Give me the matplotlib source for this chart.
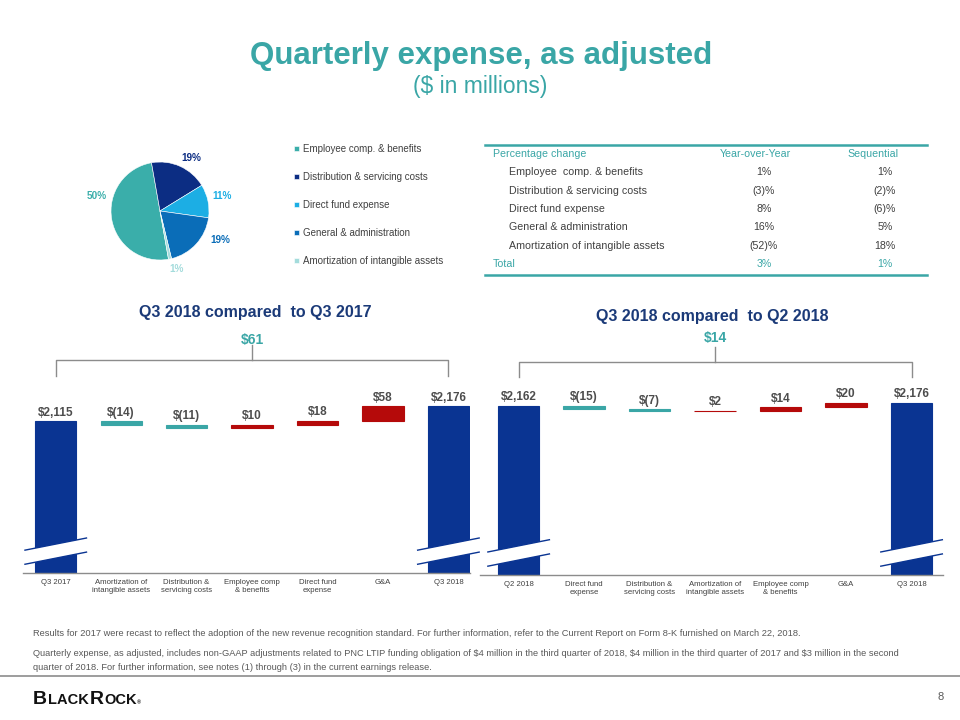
import matplotlib.pyplot as plt
import matplotlib.transforms as mtransforms
from matplotlib.offsetbox import TextArea, HPacker, AnnotationBbox
import numpy as np

plt.rcParams['font.family'] = ['Liberation Sans', 'DejaVu Sans']

# ---- data ----
pie_labels = ['Employee comp. & benefits', 'Distribution & servicing costs',
              'Direct fund expense', 'General & administration',
              'Amortization of intangible assets']
pie_pct = [50, 19, 11, 19, 1]

table_items = ['Employee  comp. & benefits', 'Distribution & servicing costs',
               'Direct fund expense', 'General & administration',
               'Amortization of intangible assets']
yoy_change = [1, -3, 8, 16, -52]
seq_change = [1, -2, -6, 5, 18]
yoy_total = 3
seq_total = 1

q3_2017 = 2115
yoy_names = ['Amortization of\nintangible assets', 'Distribution &\nservicing costs',
             'Employee comp\n& benefits', 'Direct fund\nexpense', 'G&A']
yoy_deltas = [-14, -11, 10, 18, 58]

q2_2018 = 2162
seq_names = ['Direct fund\nexpense', 'Distribution &\nservicing costs',
             'Amortization of\nintangible assets', 'Employee comp\n& benefits', 'G&A']
seq_deltas = [-15, -7, 2, 14, 20]

# ---- style ----
TEAL = '#3AA6A6'
NAVY = '#0A3492'
NAVY_TXT = '#1B3A78'
RED = '#B50A0A'
GRAY = '#404040'
pie_colors = ['#3AAEAA', '#0C2D83', '#1CAEE4', '#0A6DB8', '#A4DCDC']

W, H = 960, 720
fig = plt.figure(figsize=(9.6, 7.2), dpi=100)


def box(x0, y0, x1, y1):
    return [x0 / W, 1 - y1 / H, (x1 - x0) / W, (y1 - y0) / H]


def money(v):
    return f"${v:,}" if v >= 0 else f"$({-v})"


def pct(v):
    return f"{v}%" if v >= 0 else f"({-v})%"


# overlay in pixel coords for slide text
ov = fig.add_axes([0, 0, 1, 1])
ov.set_xlim(0, W)
ov.set_ylim(H, 0)
ov.axis('off')

ov.text(481, 64, 'Quarterly expense, as adjusted', ha='center', va='baseline',
        fontsize=22.5, fontweight='bold', color=TEAL)
ov.text(480, 93, '($ in millions)', ha='center', va='baseline', fontsize=16.5, color=TEAL)

# ---- pie ----
axp = fig.add_axes(box(111, 162, 209, 260))
wedges, _, autotexts = axp.pie(pie_pct, colors=pie_colors, startangle=280, counterclock=False,
                               autopct=lambda p: f"{p:.0f}%", pctdistance=1.3,
                               wedgeprops=dict(edgecolor='white', linewidth=0.4))
axp.set_xlim(-1, 1)
axp.set_ylim(-1, 1)
label_r = [1.32, 1.26, 1.3, 1.36, 1.23]
label_ang = [167, 60, 14, -26, -74]
for t, c, r, a in zip(autotexts, pie_colors, label_r, label_ang):
    t.set_position((r * np.cos(np.radians(a)), r * np.sin(np.radians(a))))
    t.set_color(c)
    t.set_fontsize(7.2)
    t.set_fontweight('bold')

fig.legend(handles=wedges, labels=pie_labels, loc='upper left',
           bbox_to_anchor=(294 / W, 1 - 144 / H), frameon=False, fontsize=7,
           labelcolor=GRAY, handlelength=0.55, handleheight=0.55, handletextpad=0.4,
           labelspacing=1.85, borderpad=0, borderaxespad=0)

# ---- table ----
TF = 7.7
ov.plot([485, 927], [145, 145], color=TEAL, lw=1.8)
ov.plot([485, 927], [275, 275], color=TEAL, lw=1.8)
ov.text(493, 154, 'Percentage change', color=TEAL, va='center', fontsize=TF)
ov.text(755, 154, 'Year-over-Year', color=TEAL, va='center', ha='center', fontsize=TF)
ov.text(873, 154, 'Sequential', color=TEAL, va='center', ha='center', fontsize=TF)
for i, name in enumerate(table_items):
    y = 172 + i * 18.5
    ov.text(509, y, name, color=GRAY, va='center', fontsize=TF)
    ov.text(764, y, pct(yoy_change[i]), color=GRAY, va='center', ha='center', fontsize=TF)
    ov.text(885, y, pct(seq_change[i]), color=GRAY, va='center', ha='center', fontsize=TF)
ov.text(493, 264, 'Total', color=TEAL, va='center', fontsize=TF)
ov.text(764, 264, pct(yoy_total), color=TEAL, va='center', ha='center', fontsize=TF)
ov.text(885, 264, pct(seq_total), color=TEAL, va='center', ha='center', fontsize=TF)

# ---- waterfalls ----
ov.text(255, 312, 'Q3 2018 compared  to Q3 2017', ha='center', va='center',
        fontsize=11.5, fontweight='bold', color=NAVY_TXT)
ov.text(712, 316, 'Q3 2018 compared  to Q2 2018', ha='center', va='center',
        fontsize=11.5, fontweight='bold', color=NAVY_TXT)


def waterfall(rect, start, names, deltas, first, last, xlim, ylim, brk):
    ax = fig.add_axes(rect)
    ax.patch.set_alpha(0)
    end = start + sum(deltas)
    cats = [first] + names + [last]
    x = list(range(len(cats)))
    levels = [start]
    for d in deltas:
        levels.append(levels[-1] + d)
    bottoms = [ylim[0]] + [min(levels[i], levels[i + 1]) for i in range(len(deltas))] + [ylim[0]]
    heights = [start - ylim[0]] + [abs(d) for d in deltas] + [end - ylim[0]]
    colors = [NAVY] + [TEAL if d < 0 else RED for d in deltas] + [NAVY]
    values = [start] + deltas + [end]
    ax.bar(x, heights, bottom=bottoms, width=0.63, color=colors, edgecolor=colors, linewidth=0.8)
    for i in x:
        ax.annotate(money(values[i]), (i, bottoms[i] + heights[i]), xytext=(0, 2),
                    textcoords='offset points', ha='center', va='bottom',
                    fontsize=8.5, fontweight='bold', color='#4D4D4D')
    ax.set_xlim(*xlim)
    ax.set_ylim(*ylim)
    ax.set_xticks(x, cats)
    ax.set_yticks([])
    ax.tick_params(axis='x', length=0, pad=4, labelsize=5.6, labelcolor=GRAY)
    for lab in ax.get_xticklabels():
        lab.set_linespacing(1.25)
    for s in ['top', 'left', 'right']:
        ax.spines[s].set_visible(False)
    ax.spines['bottom'].set_color('#8C8C8C')
    ax.spines['bottom'].set_linewidth(1)

    trans = mtransforms.blended_transform_factory(ax.transData, ax.transAxes)
    # axis break marks on the first and last bars
    for i in (x[0], x[-1]):
        x0, x1 = i - 0.47, i + 0.47
        yc, th, dy = 0.09, 0.058, 0.025
        poly = plt.Polygon([(x0, yc - th / 2 - dy), (x1, yc - th / 2 + dy),
                            (x1, yc + th / 2 + dy), (x0, yc + th / 2 - dy)],
                           closed=True, facecolor='white', edgecolor='none',
                           transform=trans, zorder=3)
        ax.add_patch(poly)
        for s in (-1, 1):
            ax.plot([x0, x1], [yc + s * th / 2 - dy, yc + s * th / 2 + dy], transform=trans,
                    color=NAVY, lw=1, zorder=4, clip_on=False)

    # bracket with total change
    lo, mid, top, lab = brk
    c = (x[0] + x[-1]) / 2
    ax.plot([x[0], x[0], x[-1], x[-1]], [lo, mid, mid, lo], transform=trans,
            color='#8C8C8C', lw=1, clip_on=False)
    ax.plot([c, c], [mid, top], transform=trans, color='#8C8C8C', lw=1, clip_on=False)
    ax.text(c, lab, money(end - start), transform=trans, ha='center', va='center',
            fontsize=10, fontweight='bold', color=TEAL)
    return ax


waterfall(box(23, 330, 470, 573), q3_2017, yoy_names, yoy_deltas, 'Q3 2017', 'Q3 2018',
          (-0.5, 6.33), (1499, 2487), (0.811, 0.877, 0.938, 0.960))
waterfall(box(480, 330, 943, 575), q2_2018, seq_names, seq_deltas, 'Q2 2018', 'Q3 2018',
          (-0.59, 6.48), (1427, 2492), (0.808, 0.869, 0.931, 0.967))

# ---- footnotes ----
note1 = ('Results for 2017 were recast to reflect the adoption of the new revenue recognition standard. '
         'For further information, refer to the Current Report on Form 8-K furnished on March 22, 2018.')
note2a = ('Quarterly expense, as adjusted, includes non-GAAP adjustments related to PNC LTIP funding obligation '
          'of $4 million in the third quarter of 2018, $4 million in the third quarter of 2017 and $3 million in the second')
note2b = 'quarter of 2018. For further information, see notes (1) through (3) in the current earnings release.'
NF = 6.7
ov.text(33, 634, note1, fontsize=NF, color='#595959', va='center')
ov.text(33, 654, note2a, fontsize=NF, color='#595959', va='center')
ov.text(33, 667, note2b, fontsize=NF, color='#595959', va='center')
ov.plot([0, W], [676, 676], color='#8C8C8C', lw=1.2)
ov.text(938, 697, '8', fontsize=8, color='#595959', va='center')

# logo
parts = [('B', 14), ('LACK', 10.5), ('R', 14), ('OCK', 10.5), ('®', 4)]
logo = HPacker(children=[TextArea(s, textprops=dict(fontsize=f, fontweight='bold', color='#111111'))
                         for s, f in parts], align='baseline', pad=0, sep=0.5)
ov.add_artist(AnnotationBbox(logo, (33, 708), xycoords='data', box_alignment=(0, 0),
                             frameon=False, pad=0))

fig.savefig('out.png', dpi=100)
